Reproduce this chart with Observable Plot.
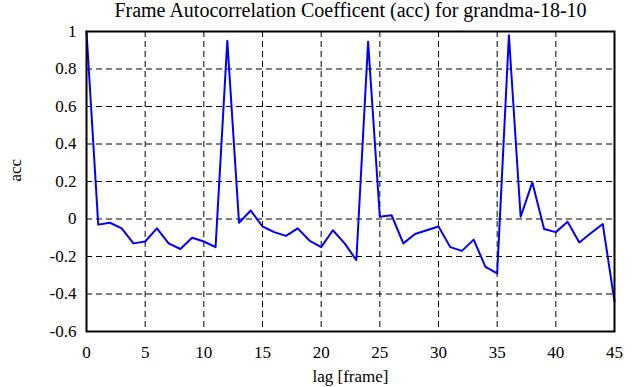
<!DOCTYPE html>
<html>
<head>
<meta charset="utf-8">
<script src="https://cdn.jsdelivr.net/npm/d3@7"></script>
<script src="https://cdn.jsdelivr.net/npm/@observablehq/plot@0.6"></script>
<style>
  html, body { margin: 0; padding: 0; background: #fff; }
  svg { display: block; }
</style>
</head>
<body>
<div id="chart"></div>
<script>
const lags = d3.range(0, 46);
const acc = [
  1.0, -0.03, -0.02, -0.05, -0.13, -0.12, -0.05, -0.13, -0.16, -0.10,
  -0.12, -0.15, 0.95, -0.02, 0.045, -0.04, -0.07, -0.09, -0.05, -0.115,
  -0.15, -0.06, -0.13, -0.22, 0.945, 0.012, 0.02, -0.13, -0.08, -0.06,
  -0.04, -0.15, -0.17, -0.11, -0.255, -0.29, 0.98, 0.012, 0.195, -0.053,
  -0.07, -0.015, -0.125, -0.075, -0.027, -0.44
];
const xTicks = [0, 5, 10, 15, 20, 25, 30, 35, 40, 45];
const yTicks = [-0.6, -0.4, -0.2, 0, 0.2, 0.4, 0.6, 0.8, 1];
const titleText = "Frame Autocorrelation Coefficent (acc) for grandma-18-10";
const xLabel = "lag [frame]";
const yLabel = "acc";

const data = lags.map((l, i) => ({lag: l, acc: acc[i]}));
const serif = "'Liberation Serif', serif";

const chart = Plot.plot({
  width: 641,
  height: 387,
  marginLeft: 86,
  marginRight: 27,
  marginTop: 31,
  marginBottom: 56,
  style: {fontFamily: serif, fontSize: "17px", color: "#000", background: "#fff"},
  x: {domain: [0, 45], ticks: xTicks, tickSize: 0, tickPadding: 14, tickFormat: d => String(d), label: null},
  y: {domain: [-0.6, 1], ticks: yTicks, tickSize: 0, tickPadding: 10, tickFormat: d => String(d), label: null},
  marks: [
    Plot.ruleX(xTicks.slice(1, -1), {stroke: "#000", strokeWidth: 1, strokeDasharray: "6,4"}),
    Plot.ruleY(yTicks.slice(1, -1), {stroke: "#000", strokeWidth: 1, strokeDasharray: "6,4"}),
    Plot.line(data, {x: "lag", y: "acc", stroke: "#0000ff", strokeWidth: 2}),
    Plot.frame({stroke: "#000", strokeWidth: 2}),
    Plot.text([titleText], {frameAnchor: "top", dy: -21, fontSize: 20, lineAnchor: "middle"}),
    Plot.text([xLabel], {frameAnchor: "bottom", dy: 45, fontSize: 17, lineAnchor: "middle"}),
    Plot.text([yLabel], {frameAnchor: "left", dx: -71, rotate: -90, fontSize: 17, lineAnchor: "middle"})
  ]
});
d3.select(chart).selectAll("text").style("font-family", serif).style("font-variant", "normal");
document.getElementById("chart").appendChild(chart);
</script>
</body>
</html>
